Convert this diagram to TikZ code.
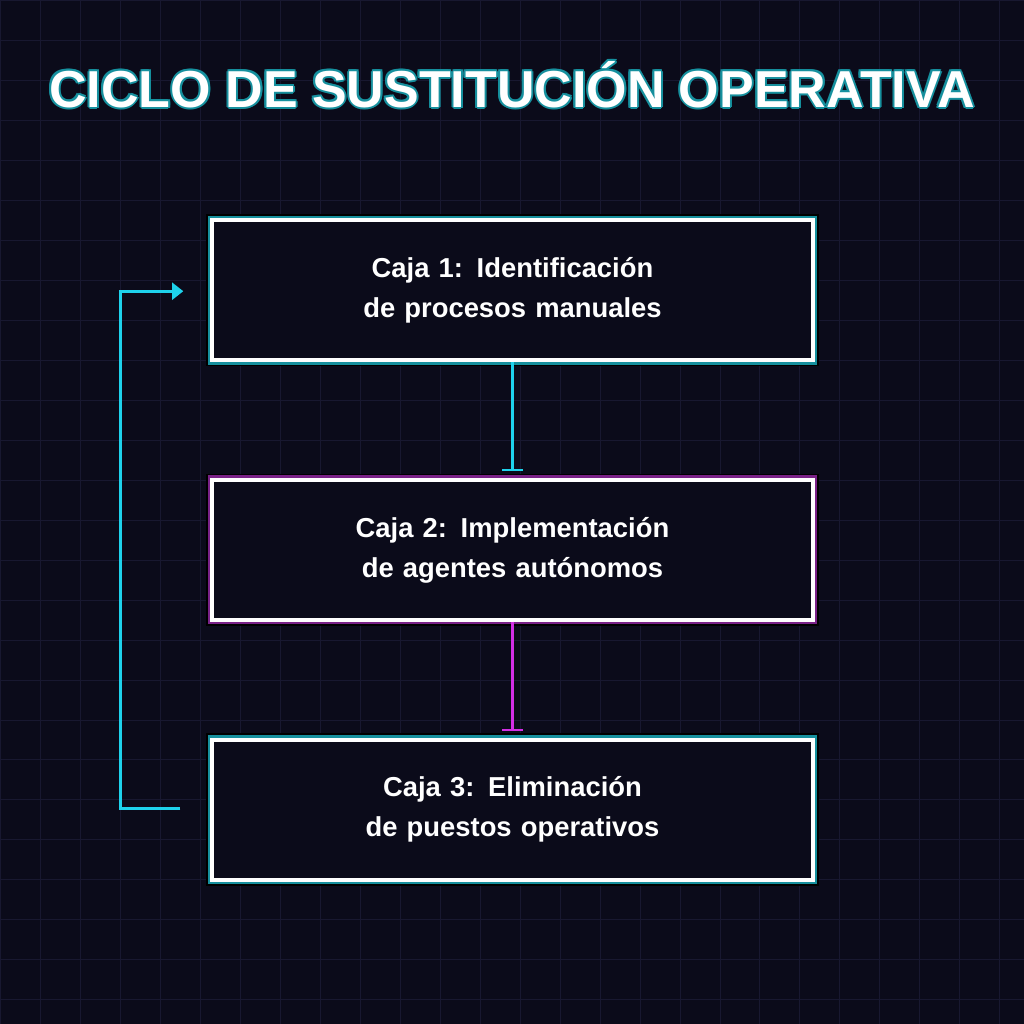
\documentclass[tikz,border=0pt]{standalone}
\usepackage{fontspec}
\setmainfont{Liberation Sans}
\usetikzlibrary{arrows.meta,positioning}
\definecolor{bgc}{HTML}{0B0B1A}
\definecolor{gridc}{HTML}{181830}
\definecolor{neoncyan}{HTML}{1ED2EC}
\definecolor{neonteal}{HTML}{16909E}
\definecolor{neonpink}{HTML}{D42EE6}
\definecolor{neonplum}{HTML}{7A2288}
\begin{document}
\begin{tikzpicture}[x=0.025cm,y=-0.025cm,
	box/.style={draw=white,line width=2.6pt,fill=bgc,minimum width=15.025cm,minimum height=3.5cm,
		text=white,font=\fontsize{19.5}{28.5}\selectfont\bfseries,align=center,text width=13.2cm,
		preaction={draw=black,line width=9pt},preaction={draw=#1,line width=6.5pt}},
	box/.default=neonteal,
	link/.style={line width=2pt,-{Bar[width=15pt,line width=1.4pt]}}]
	\fill[bgc] (0,0) rectangle (1024,1024);
	\draw[gridc,line width=0.7pt,step=1cm] (0,0) grid (1024,1024);
	\useasboundingbox (0,0) rectangle (1024,1024);

	% title with glow
	\foreach \dx/\dy in {-2/0,2/0,0/-2,0/2,-1.5/-1.5,1.5/1.5,-1.5/1.5,1.5/-1.5}
		\node[text=neonteal,font=\fontsize{37}{40}\selectfont\bfseries] at (512+\dx,84+\dy) {CICLO DE SUSTITUCIÓN OPERATIVA};
	\node (title) [text=white,font=\fontsize{37}{40}\selectfont\bfseries] at (512,84) {CICLO DE SUSTITUCIÓN OPERATIVA};

	\node (caja1) [box] at (512.5,290) {Caja 1: Identificación de procesos manuales};
	\node (caja2) [box=neonplum] at (512.5,550) {Caja 2: Implementación de agentes autónomos};
	\node (caja3) [box] at (512.5,810) {Caja 3: Eliminación de puestos operativos};

	\draw[link,neoncyan] (caja1.south) -- ([yshift=5pt]caja2.north);
	\draw[link,neonpink] (caja2.south) -- ([yshift=5pt]caja3.north);

	\coordinate (loopin) at (180,809);
	\coordinate (loopout) at (183,291);
	\draw[neoncyan,line width=2pt,-{Triangle[width=12pt,length=8pt]}] (loopin) -- (120,809) -- (120,291) -- (loopout);
\end{tikzpicture}
\end{document}
